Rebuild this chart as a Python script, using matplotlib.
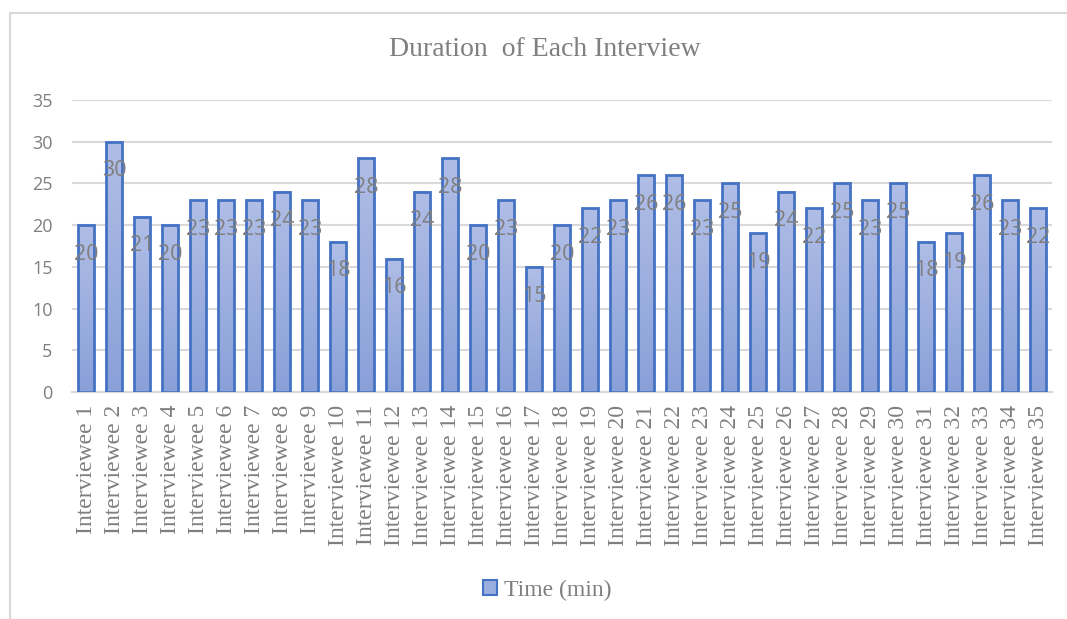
import matplotlib
matplotlib.use("Agg")
import matplotlib.pyplot as plt
import numpy as np
from matplotlib.patches import Rectangle
from matplotlib.colors import LinearSegmentedColormap

categories = [f"Interviewee {i}" for i in range(1, 36)]
durations = [20, 30, 21, 20, 23, 23, 23, 24, 23, 18, 28, 16, 24, 28, 20, 23, 15, 20,
             22, 23, 26, 26, 23, 25, 19, 24, 22, 25, 23, 25, 18, 19, 26, 23, 22]
title = "Duration  of Each Interview"
series_name = "Time (min)"
yticks = [0, 5, 10, 15, 20, 25, 30, 35]

gray_text = "#7f7f7f"
grid_col = "#d9d9d9"
edge_col = "#4472c4"
cmap = LinearSegmentedColormap.from_list("g", ["#8aa0d9", "#b0bee6"])

fig = plt.figure(figsize=(10.67, 6.19), dpi=100)
# outer chart border
fig.patches.append(Rectangle((10/1067, -0.01), 1.02, 1 - 13/619 + 0.01, transform=fig.transFigure,
                             fill=False, edgecolor=grid_col, lw=1.5))
ax = fig.add_axes([72/1067, 1 - 392/619, (1052-72)/1067, (392-100)/619])

x = np.arange(len(categories))
w = 0.57
grad = np.linspace(0, 1, 256).reshape(-1, 1)
bars = ax.bar(x, durations, width=w, facecolor="none", edgecolor=edge_col, lw=2, zorder=3)
for b in bars:
    bx, by = b.get_x(), b.get_y()
    bw, bh = b.get_width(), b.get_height()
    ax.imshow(grad, cmap=cmap, origin="lower", aspect="auto",
              extent=(bx, bx + bw, by, by + bh), zorder=2, interpolation="bilinear")

for xi, v in zip(x, durations):
    ax.annotate(str(v), (xi, v), xytext=(0, -21), textcoords="offset points",
                ha="center", va="center", fontsize=15.5, color=gray_text,
                family="Open Sans", zorder=4)

ax.set_xlim(-0.5, len(categories) - 0.5)
ax.set_ylim(0, 35)
ax.set_yticks(yticks)
ax.yaxis.grid(True, color=grid_col, lw=1.5, zorder=0)
ax.set_axisbelow(True)
for s in ["top", "right", "left"]:
    ax.spines[s].set_visible(False)
ax.spines["bottom"].set_color(grid_col)
ax.spines["bottom"].set_linewidth(1.5)
ax.tick_params(axis="both", length=0)
ax.tick_params(axis="y", pad=14, labelsize=13, labelcolor=gray_text)
ax.set_xticks(x)
ax.set_xticklabels(categories, rotation=90, fontsize=17, color=gray_text,
                   family="Liberation Serif")
ax.tick_params(axis="x", pad=9)
for t in ax.get_yticklabels():
    t.set_family("Open Sans")

fig.text(545/1067, 1 - 50/619, title, ha="center", va="center", fontsize=20,
         color=gray_text, family="Liberation Serif")

handle = Rectangle((0, 0), 1, 1, facecolor="#9aaedf", edgecolor=edge_col, lw=1.5)
leg = fig.legend([handle], [series_name], loc="center", bbox_to_anchor=(547/1067, 1 - 590/619),
                 frameon=False, handlelength=0.6, handleheight=0.6, handletextpad=0.3,
                 prop={"family": "Liberation Serif", "size": 17})
for t in leg.get_texts():
    t.set_color(gray_text)

fig.savefig("out.png", dpi=100)
